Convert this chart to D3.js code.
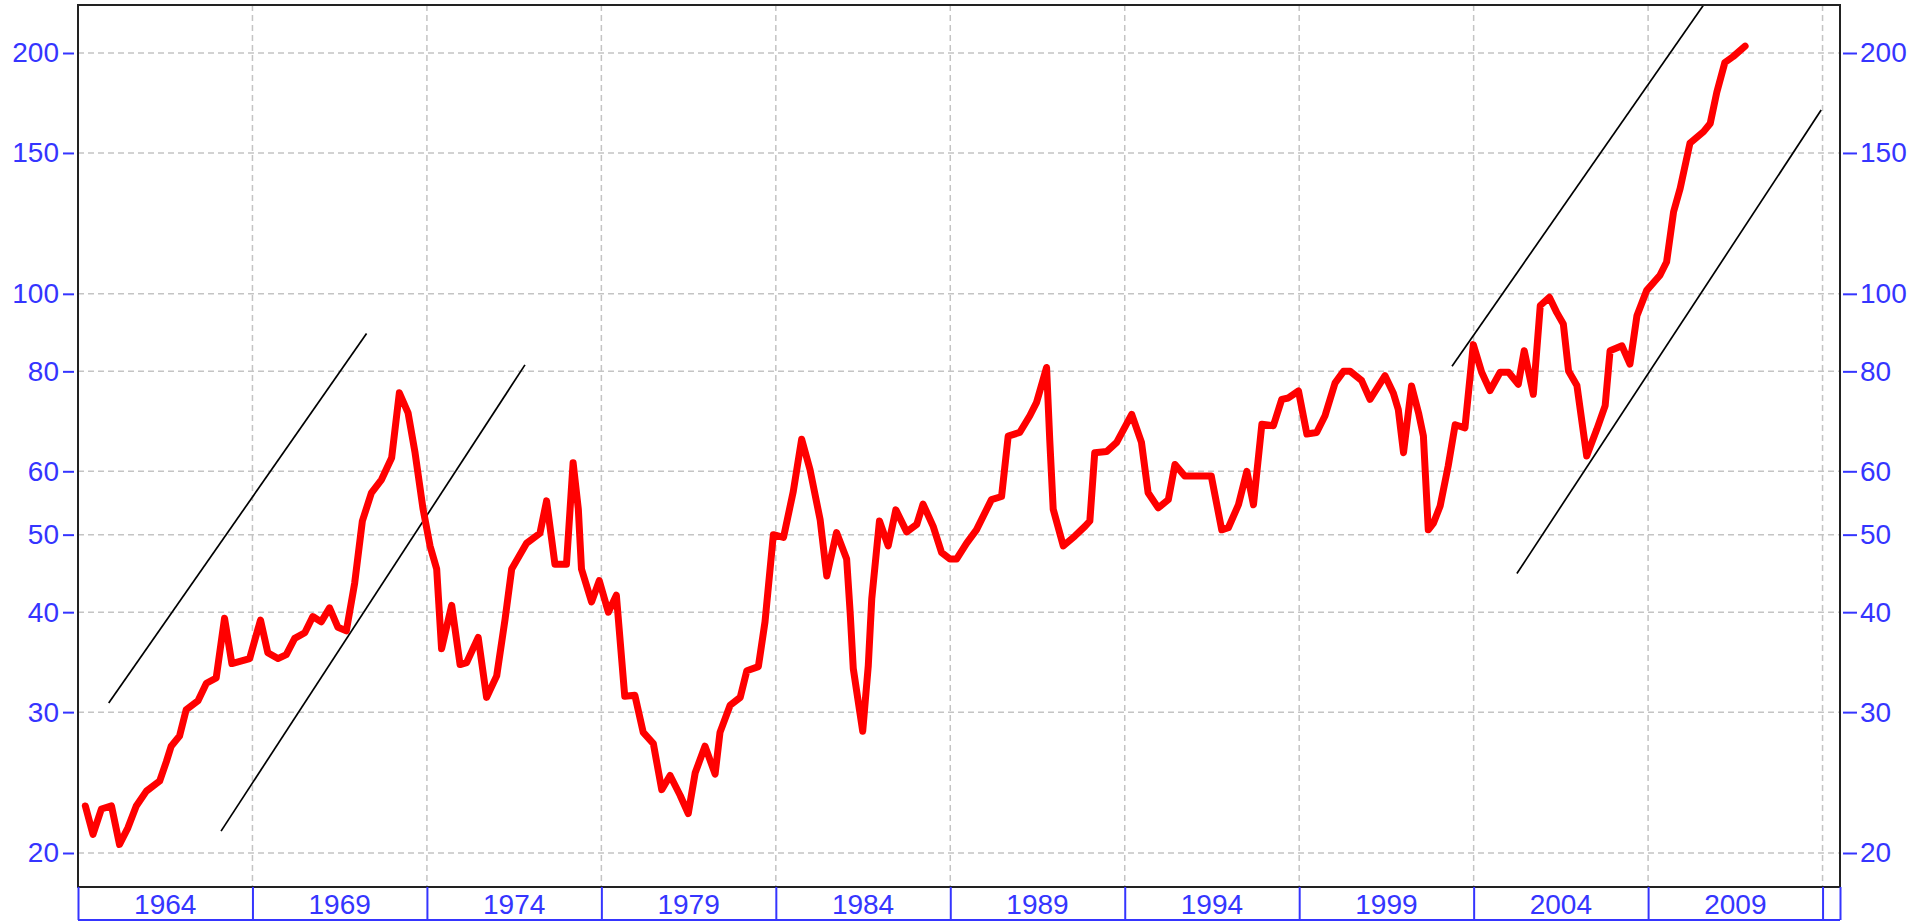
<!DOCTYPE html>
<html>
<head>
<meta charset="utf-8">
<script src="https://cdn.jsdelivr.net/npm/d3@7"></script>
<style>
  body { margin: 0; background: #fff; }
  text { font-family: "Liberation Sans", Arial, sans-serif; }
</style>
</head>
<body>
<div id="chart"></div>
<script>
const width = 1915
const height = 922
const margin = {
    top: 5,
    bottom: 35,
    left: 78,
    right: 75
}
const blue = "#3535ff"

// datos (fecha decimal, valor)
const dates = [
    1962.21, 1962.43, 1962.67, 1962.96, 1963.19, 1963.43, 1963.67, 1963.96, 1964.34, 1964.53,
    1964.67, 1964.91, 1965.10, 1965.44, 1965.68, 1965.96, 1966.20, 1966.41, 1966.92, 1967.23,
    1967.44, 1967.73, 1967.97, 1968.21, 1968.50, 1968.73, 1968.97, 1969.21, 1969.45, 1969.69,
    1969.93, 1970.15, 1970.41, 1970.70, 1970.99, 1971.21, 1971.46, 1971.66, 1971.89, 1972.09,
    1972.28, 1972.42, 1972.71, 1972.95, 1973.14, 1973.47, 1973.71, 1974.00, 1974.24, 1974.43,
    1974.86, 1975.24, 1975.43, 1975.67, 1976.00, 1976.19, 1976.34, 1976.43, 1976.72, 1976.94,
    1977.20, 1977.43, 1977.67, 1977.96, 1978.20, 1978.49, 1978.73, 1978.97, 1979.26, 1979.49,
    1979.69, 1979.97, 1980.26, 1980.40, 1980.69, 1980.98, 1981.17, 1981.50, 1981.69, 1981.93,
    1982.22, 1982.50, 1982.74, 1982.98, 1983.27, 1983.46, 1983.74, 1984.03, 1984.13, 1984.22,
    1984.49, 1984.65, 1984.75, 1984.97, 1985.22, 1985.44, 1985.75, 1986.04, 1986.22, 1986.51,
    1986.75, 1986.99, 1987.18, 1987.47, 1987.75, 1988.18, 1988.47, 1988.66, 1988.99, 1989.28,
    1989.47, 1989.76, 1989.85, 1989.95, 1990.24, 1990.57, 1990.86, 1991.00, 1991.14, 1991.48,
    1991.77, 1992.20, 1992.48, 1992.67, 1992.96, 1993.25, 1993.44, 1993.72, 1994.48, 1994.78,
    1994.97, 1995.26, 1995.50, 1995.69, 1995.93, 1996.26, 1996.50, 1996.69, 1996.98, 1997.22,
    1997.50, 1997.74, 1998.03, 1998.27, 1998.46, 1998.79, 1999.03, 1999.46, 1999.70, 1999.84,
    1999.99, 2000.22, 2000.42, 2000.56, 2000.70, 2000.85, 2001.04, 2001.27, 2001.47, 2001.75,
    2001.99, 2002.23, 2002.47, 2002.76, 2003.00, 2003.28, 2003.45, 2003.71, 2003.91, 2004.17,
    2004.38, 2004.57, 2004.72, 2004.96, 2005.24, 2005.53, 2005.77, 2005.91, 2006.25, 2006.48,
    2006.68, 2006.96, 2007.34, 2007.53, 2007.73, 2007.92, 2008.20, 2008.59, 2008.78, 2008.97,
    2009.20, 2009.44, 2009.78
]
const values = [
    22.9, 21.1, 22.7, 22.9, 20.5, 21.5, 22.9, 23.9, 24.6, 26.0,
    27.2, 28.0, 30.2, 31.0, 32.6, 33.1, 39.3, 34.5, 35.0, 39.1,
    35.6, 35.0, 35.4, 37.1, 37.7, 39.5, 38.9, 40.5, 38.3, 37.9,
    43.5, 52.0, 56.4, 58.6, 62.4, 75.2, 71.0, 63.3, 53.8, 48.4,
    45.3, 36.0, 40.8, 34.4, 34.6, 37.2, 31.3, 33.3, 39.2, 45.3,
    48.8, 50.2, 55.1, 45.9, 45.9, 61.5, 53.8, 45.3, 41.2, 43.8,
    40.0, 42.0, 31.4, 31.5, 28.3, 27.4, 24.0, 25.0, 23.6, 22.4,
    25.2, 27.2, 25.1, 28.3, 30.6, 31.3, 33.8, 34.2, 38.9, 50.0,
    49.6, 56.6, 65.8, 60.3, 52.2, 44.4, 50.3, 46.6, 40.0, 34.0,
    28.4, 34.3, 41.6, 52.0, 48.4, 53.7, 50.4, 51.5, 54.6, 51.2,
    47.5, 46.6, 46.6, 48.8, 50.7, 55.3, 55.8, 66.4, 67.1, 70.4,
    73.1, 80.9, 65.8, 53.8, 48.4, 49.8, 51.2, 52.0, 63.3, 63.5,
    65.2, 70.7, 65.2, 56.4, 54.0, 55.3, 61.2, 59.2, 59.2, 50.7,
    51.0, 54.5, 60.0, 54.5, 68.7, 68.4, 73.8, 74.1, 75.6, 66.8,
    67.1, 70.4, 77.4, 80.0, 80.0, 77.9, 73.8, 79.0, 75.1, 71.7,
    63.3, 76.7, 71.0, 66.4, 50.7, 51.7, 54.3, 60.9, 68.6, 68.0,
    86.4, 79.8, 75.7, 79.8, 79.8, 77.1, 84.9, 74.9, 96.7, 99.0,
    94.8, 91.7, 80.1, 76.8, 62.7, 67.7, 72.5, 84.9, 86.1, 81.7,
    93.9, 101.0, 105.5, 109.6, 126.6, 135.5, 154.3, 159.5, 163.3, 178.7,
    194.6, 198.0, 204.0
]

// lineas de tendencia (inicio y fin)
const trendStart = [[1962.88, 30.8], [1966.10, 21.3], [2001.38, 81.2], [2003.24, 44.7]]
const trendEnd = [[1970.27, 89.2], [1974.81, 81.5], [2008.69, 233], [2011.96, 169.7]]

const yTicks = [20, 30, 40, 50, 60, 80, 100, 150, 200]
const xBands = [1962, 1967, 1972, 1977, 1982, 1987, 1992, 1997, 2002, 2007, 2012]
const xLabels = ["1964", "1969", "1974", "1979", "1984", "1989", "1994", "1999", "2004", "2009"]

const data = dates.map((d, i) => ({ year: d, value: values[i] }))

const svg = d3.select("#chart")
    .append("svg")
    .attr("width", width)
    .attr("height", height)

const plotW = width - margin.left - margin.right

var x = d3.scaleLinear().domain([1962, 2012.5]).range([margin.left, width - margin.right])
var y = d3.scaleLog().domain([20, 200]).range([853, 53])

svg.append("clipPath").attr("id", "plotClip")
    .append("rect")
    .attr("x", margin.left).attr("y", margin.top)
    .attr("width", plotW).attr("height", 887 - margin.top)

// rejilla
const grid = svg.append("g").attr("id", "grid")
grid.selectAll("line.h").data(yTicks).join("line")
    .attr("class", "h")
    .attr("x1", margin.left).attr("x2", width - margin.right)
    .attr("y1", d => y(d)).attr("y2", d => y(d))
grid.selectAll("line.v").data(xBands.slice(1)).join("line")
    .attr("class", "v")
    .attr("x1", d => x(d)).attr("x2", d => x(d))
    .attr("y1", margin.top).attr("y2", 887)
grid.selectAll("line")
    .attr("stroke", "#c4c4c4")
    .attr("stroke-width", 1.5)
    .attr("stroke-dasharray", "6,4")

// tendencias
svg.append("g").attr("clip-path", "url(#plotClip)")
    .selectAll("line").data(trendStart).join("line")
    .attr("x1", d => x(d[0])).attr("y1", d => y(d[1]))
    .attr("x2", (d, i) => x(trendEnd[i][0])).attr("y2", (d, i) => y(trendEnd[i][1]))
    .attr("stroke", "#000")
    .attr("stroke-width", 1.7)

// serie
let valueLine = d3.line()
    .x(d => x(d.year))
    .y(d => y(d.value))

svg.append("path")
    .attr("d", valueLine(data))
    .attr("fill", "none")
    .attr("stroke", "#ff0000")
    .attr("stroke-width", 7)
    .attr("stroke-linejoin", "round")
    .attr("stroke-linecap", "round")

// marco
svg.append("rect")
    .attr("x", margin.left).attr("y", margin.top)
    .attr("width", plotW).attr("height", 887 - margin.top)
    .attr("fill", "none")
    .attr("stroke", "#222")
    .attr("stroke-width", 2)

// ejes Y
const yAxisL = d3.axisLeft(y).tickValues(yTicks).tickFormat(d3.format("d")).tickSize(11).tickPadding(4)
const yAxisR = d3.axisRight(y).tickValues(yTicks).tickFormat(d3.format("d")).tickSize(14).tickPadding(3)

const yL = svg.append("g").attr("transform", `translate(74, 0)`).call(yAxisL)
const yR = svg.append("g").attr("transform", `translate(1843, 0)`).call(yAxisR)
for (const g of [yL, yR]) {
    g.select(".domain").remove()
    g.selectAll("line").attr("stroke", blue).attr("stroke-width", 2)
    g.selectAll("text").attr("fill", blue).attr("font-size", 28)
        .attr("font-family", "Liberation Sans, Arial, sans-serif")
}

// eje X en bandas
const xAxis = d3.axisBottom(x).tickValues(xBands.concat([2012.5])).tickFormat("").tickSize(33)
const xG = svg.append("g").attr("transform", `translate(0, 887)`).call(xAxis)
xG.select(".domain").remove()
xG.selectAll("line").attr("stroke", blue).attr("stroke-width", 2)

svg.append("line")
    .attr("x1", margin.left).attr("x2", width - margin.right)
    .attr("y1", 920).attr("y2", 920)
    .attr("stroke", blue).attr("stroke-width", 2)

svg.append("g").selectAll("text").data(xLabels).join("text")
    .text(d => d)
    .attr("x", (d, i) => (x(xBands[i]) + x(xBands[i + 1])) / 2)
    .attr("y", 904)
    .attr("dy", "0.35em")
    .attr("text-anchor", "middle")
    .attr("font-size", 28)
    .attr("fill", blue)
</script>
</body>
</html>
